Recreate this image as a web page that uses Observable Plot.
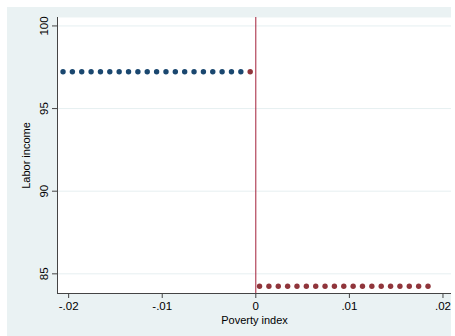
<!DOCTYPE html>
<html>
<head>
<meta charset="utf-8">
<script src="https://cdn.jsdelivr.net/npm/d3@7"></script>
<script src="https://cdn.jsdelivr.net/npm/@observablehq/plot@0.6"></script>
<style>
  html, body { margin: 0; padding: 0; background: #ffffff; }
  #wrap { position: relative; width: 455px; height: 336px; overflow: hidden; }
  #bg { position: absolute; left: 7px; top: 7px; width: 444px; height: 329px; background: #eaf2f3; }
  #chart { position: absolute; left: 0; top: 0; }
</style>
</head>
<body>
<div id="wrap"><div id="bg"></div><div id="chart"></div></div>
<script>
// Data
const leftX = [-0.0206, -0.0196, -0.0186, -0.0176, -0.0166, -0.0156, -0.0146, -0.0136, -0.0126, -0.0116,
               -0.0106, -0.0096, -0.0086, -0.0076, -0.0066, -0.0056, -0.0046, -0.0036, -0.0026, -0.0016];
const leftY = [97.23, 97.23, 97.23, 97.23, 97.23, 97.23, 97.23, 97.23, 97.23, 97.23,
               97.23, 97.23, 97.23, 97.23, 97.23, 97.23, 97.23, 97.23, 97.23, 97.23];
const rightX = [-0.0006, 0.0004, 0.0014, 0.0024, 0.0034, 0.0044, 0.0054, 0.0064, 0.0074, 0.0084,
                0.0094, 0.0104, 0.0114, 0.0124, 0.0134, 0.0144, 0.0154, 0.0164, 0.0174, 0.0184];
const rightY = [97.23, 84.25, 84.25, 84.25, 84.25, 84.25, 84.25, 84.25, 84.25, 84.25,
                84.25, 84.25, 84.25, 84.25, 84.25, 84.25, 84.25, 84.25, 84.25, 84.25];
const cutoff = [0];
const xTicks = [-0.02, -0.01, 0, 0.01, 0.02];
const xTickLabels = ["-.02", "-.01", "0", ".01", ".02"];
const yTicks = [85, 90, 95, 100];
const yTickLabels = ["85", "90", "95", "100"];
const xDomain = [-0.02119, 0.02091];
const yDomain = [83.81, 100.51];
const xTitle = "Poverty index";
const yTitle = "Labor income";

const leftData = leftX.map((x, i) => ({x, y: leftY[i]}));
const rightData = rightX.map((x, i) => ({x, y: rightY[i]}));

const axisColor = "#444444";
const chart = Plot.plot({
  width: 455,
  height: 336,
  marginLeft: 57,
  marginRight: 4,
  marginTop: 17,
  marginBottom: 43,
  style: {background: "transparent", fontFamily: "'Liberation Sans', Arial, Helvetica, sans-serif", fontSize: "11px", color: "#000"},
  x: {domain: xDomain},
  y: {domain: yDomain},
  marks: [
    Plot.frame({fill: "#ffffff", stroke: null}),
    Plot.gridY(yTicks, {stroke: "#e6eff1", strokeOpacity: 1}),
    Plot.ruleX([xDomain[0]], {stroke: axisColor}),
    Plot.ruleY([yDomain[0]], {stroke: axisColor}),
    Plot.axisX(xTicks, {tickFormat: (d, i) => xTickLabels[i], tickSize: 5, tickPadding: 3, stroke: axisColor, fill: "#000",
      fontSize: 11.5, label: null}),
    Plot.axisX({label: xTitle, labelAnchor: "center", labelArrow: "none", labelOffset: 30, ticks: [], tickSize: 0, fill: "#000"}),
    Plot.axisY(yTicks, {tickFormat: (d, i) => yTickLabels[i], tickSize: 5, tickPadding: 5, tickRotate: -90, stroke: axisColor, fill: "#000",
      fontSize: 11.5, label: null}),
    Plot.axisY({label: yTitle, labelAnchor: "center", labelArrow: "none", labelOffset: 35, ticks: [], tickSize: 0, fill: "#000"}),
    Plot.ruleX(cutoff, {stroke: "#a3203a", strokeWidth: 1}),
    Plot.dot(leftData, {x: "x", y: "y", r: 2.7, fill: "#1a476f", stroke: null}),
    Plot.dot(rightData, {x: "x", y: "y", r: 2.7, fill: "#90353b", stroke: null})
  ]
});
document.getElementById("chart").appendChild(chart);
</script>
</body>
</html>
